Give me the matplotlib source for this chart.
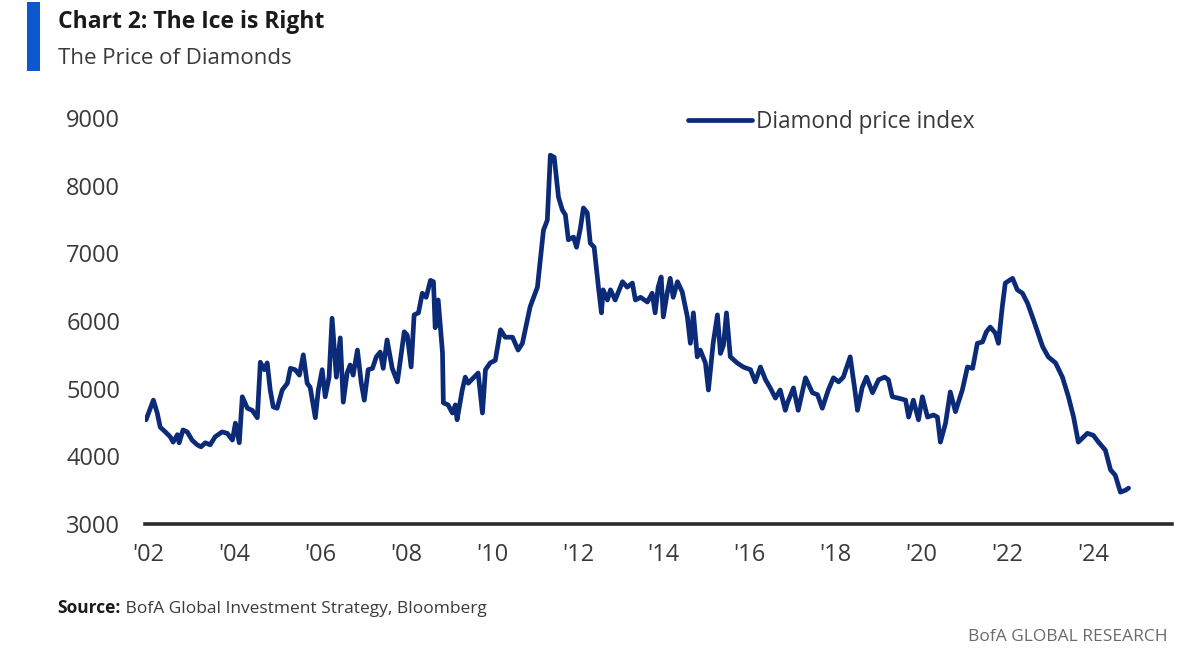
import matplotlib
matplotlib.use("Agg")
import matplotlib.pyplot as plt
from matplotlib.patches import Rectangle

# diamond price index (decimal year, index level)
years = [
    2001.95, 2002.12, 2002.21, 2002.28, 2002.40, 2002.51, 2002.58, 2002.68, 2002.72, 2002.81,
    2002.91, 2003.02, 2003.14, 2003.23, 2003.33, 2003.44, 2003.56, 2003.72, 2003.84, 2003.96,
    2004.03, 2004.12, 2004.19, 2004.31, 2004.42, 2004.54, 2004.61, 2004.70, 2004.77, 2004.84,
    2004.91, 2005.00, 2005.12, 2005.24, 2005.31, 2005.42, 2005.52, 2005.61, 2005.70, 2005.77,
    2005.89, 2005.96, 2006.05, 2006.12, 2006.21, 2006.28, 2006.38, 2006.47, 2006.54, 2006.63,
    2006.70, 2006.77, 2006.87, 2006.96, 2007.03, 2007.12, 2007.22, 2007.31, 2007.40, 2007.47,
    2007.56, 2007.68, 2007.80, 2007.87, 2007.96, 2008.03, 2008.12, 2008.19, 2008.29, 2008.38,
    2008.47, 2008.57, 2008.64, 2008.68, 2008.75, 2008.85, 2008.87, 2008.98, 2009.08, 2009.15,
    2009.19, 2009.31, 2009.38, 2009.45, 2009.57, 2009.68, 2009.78, 2009.85, 2009.96, 2010.08,
    2010.20, 2010.31, 2010.48, 2010.61, 2010.71, 2010.89, 2011.06, 2011.20, 2011.29, 2011.36,
    2011.45, 2011.55, 2011.64, 2011.71, 2011.78, 2011.90, 2011.97, 2012.06, 2012.13, 2012.22,
    2012.29, 2012.38, 2012.48, 2012.55, 2012.59, 2012.69, 2012.76, 2012.87, 2013.04, 2013.15,
    2013.27, 2013.34, 2013.46, 2013.62, 2013.73, 2013.80, 2013.87, 2013.94, 2013.99, 2014.08,
    2014.15, 2014.22, 2014.32, 2014.43, 2014.55, 2014.62, 2014.69, 2014.78, 2014.85, 2014.97,
    2015.04, 2015.15, 2015.25, 2015.32, 2015.39, 2015.46, 2015.55, 2015.71, 2015.85, 2016.02,
    2016.13, 2016.25, 2016.37, 2016.48, 2016.60, 2016.71, 2016.83, 2016.88, 2017.02, 2017.13,
    2017.30, 2017.46, 2017.58, 2017.69, 2017.83, 2017.95, 2018.07, 2018.18, 2018.34, 2018.44,
    2018.51, 2018.62, 2018.72, 2018.86, 2019.00, 2019.14, 2019.23, 2019.32, 2019.46, 2019.63,
    2019.70, 2019.81, 2019.93, 2020.02, 2020.14, 2020.28, 2020.37, 2020.44, 2020.56, 2020.67,
    2020.79, 2020.95, 2021.07, 2021.19, 2021.30, 2021.42, 2021.51, 2021.60, 2021.72, 2021.79,
    2021.88, 2021.95, 2022.12, 2022.23, 2022.35, 2022.47, 2022.61, 2022.82, 2022.95, 2023.12,
    2023.28, 2023.42, 2023.54, 2023.65, 2023.86, 2024.00, 2024.12, 2024.28, 2024.40, 2024.51,
    2024.63, 2024.75, 2024.82,
]
price = [
    4540, 4830, 4640, 4430, 4360, 4290, 4210, 4320, 4200, 4390,
    4360, 4240, 4170, 4140, 4200, 4170, 4290, 4360, 4340, 4240,
    4490, 4200, 4880, 4710, 4680, 4570, 5390, 5280, 5380, 4980,
    4730, 4710, 4980, 5080, 5300, 5280, 5200, 5500, 5080, 5020,
    4570, 4980, 5280, 4880, 5170, 6040, 5170, 5750, 4800, 5230,
    5350, 5200, 5570, 5080, 4830, 5280, 5300, 5470, 5540, 5300,
    5720, 5300, 5100, 5420, 5840, 5790, 5320, 6090, 6120, 6410,
    6350, 6600, 6580, 5900, 6310, 5530, 4790, 4760, 4640, 4760,
    4540, 4980, 5170, 5080, 5160, 5230, 4640, 5280, 5380, 5420,
    5870, 5760, 5760, 5570, 5670, 6210, 6500, 7340, 7490, 8450,
    8420, 7830, 7640, 7570, 7200, 7240, 7090, 7370, 7670, 7600,
    7150, 7090, 6500, 6120, 6460, 6310, 6460, 6310, 6580, 6500,
    6560, 6310, 6350, 6280, 6410, 6120, 6500, 6650, 6060, 6410,
    6630, 6350, 6580, 6430, 6060, 5670, 6120, 5470, 5570, 5380,
    4980, 5670, 6090, 5520, 5640, 6120, 5470, 5380, 5320, 5280,
    5100, 5320, 5130, 5010, 4860, 4980, 4680, 4790, 5010, 4680,
    5160, 4940, 4910, 4710, 4980, 5160, 5100, 5170, 5470, 5020,
    4680, 5020, 5170, 4940, 5130, 5170, 5130, 4880, 4860, 4830,
    4580, 4830, 4540, 4880, 4580, 4610, 4580, 4210, 4490, 4950,
    4660, 4980, 5320, 5300, 5670, 5690, 5840, 5910, 5820, 5670,
    6210, 6560, 6630, 6460, 6410, 6260, 6010, 5620, 5470, 5380,
    5170, 4880, 4580, 4210, 4340, 4310, 4210, 4090, 3800, 3720,
    3470, 3500, 3530,
]
tick_years = list(range(2002, 2025, 2))
tick_labels = ["'%02d" % (y % 100) for y in tick_years]
y_ticks = [3000, 4000, 5000, 6000, 7000, 8000, 9000]

NAVY = "#0b2a77"
plt.rcParams["font.family"] = ["Open Sans", "DejaVu Sans"]

fig = plt.figure(figsize=(12, 6.62), dpi=100)
ax = fig.add_axes([0.121, 0.2085, 0.856, 0.6133])

ax.plot(years, price, color=NAVY, lw=3.4, solid_joinstyle="round",
        solid_capstyle="round", label="Diamond price index")

ax.set_xlim(2001.93, 2025.84)
ax.set_ylim(3000, 9000)
ax.set_xticks(tick_years)
ax.set_xticklabels(tick_labels)
ax.set_yticks(y_ticks)
ax.tick_params(axis="both", length=0, labelsize=17, labelcolor="#3a3a3a")
ax.tick_params(axis="y", pad=18)
ax.tick_params(axis="x", pad=14)
for s in ["top", "right", "left"]:
    ax.spines[s].set_visible(False)
ax.spines["bottom"].set_color("#2b2b2b")
ax.spines["bottom"].set_linewidth(2.6)
ax.spines["bottom"].set_zorder(0.5)

leg = ax.legend(loc="upper left", bbox_to_anchor=(0.52, 1.043), frameon=False,
                fontsize=16.3, handlelength=2.8, handletextpad=0.2,
                borderaxespad=0)
for t in leg.get_texts():
    t.set_color("#3a3a3a")

# header
fig.add_artist(Rectangle((0.0225, 0.892), 0.011, 0.105, transform=fig.transFigure,
                         color="#0a58d0", lw=0))
fig.text(0.048, 0.967, "Chart 2: The Ice is Right", fontsize=16.5, fontweight="bold",
         color="#1a1a1a", va="center")
fig.text(0.048, 0.912, "The Price of Diamonds", fontsize=16, color="#3a3a3a",
         va="center")

# footer
src = fig.text(0.048, 0.068, "Source:", fontsize=12.5, fontweight="bold",
               color="#1a1a1a", va="bottom")
ax.annotate(" BofA Global Investment Strategy, Bloomberg", xy=(1, 0), xycoords=src,
            fontsize=12.5, color="#3a3a3a", va="bottom", ha="left",
            annotation_clip=False)
fig.text(0.973, 0.025, "BofA GLOBAL RESEARCH", fontsize=12.5, color="#6a6a6a",
         ha="right", va="bottom")

fig.savefig("out.png", dpi=100, facecolor="white")
